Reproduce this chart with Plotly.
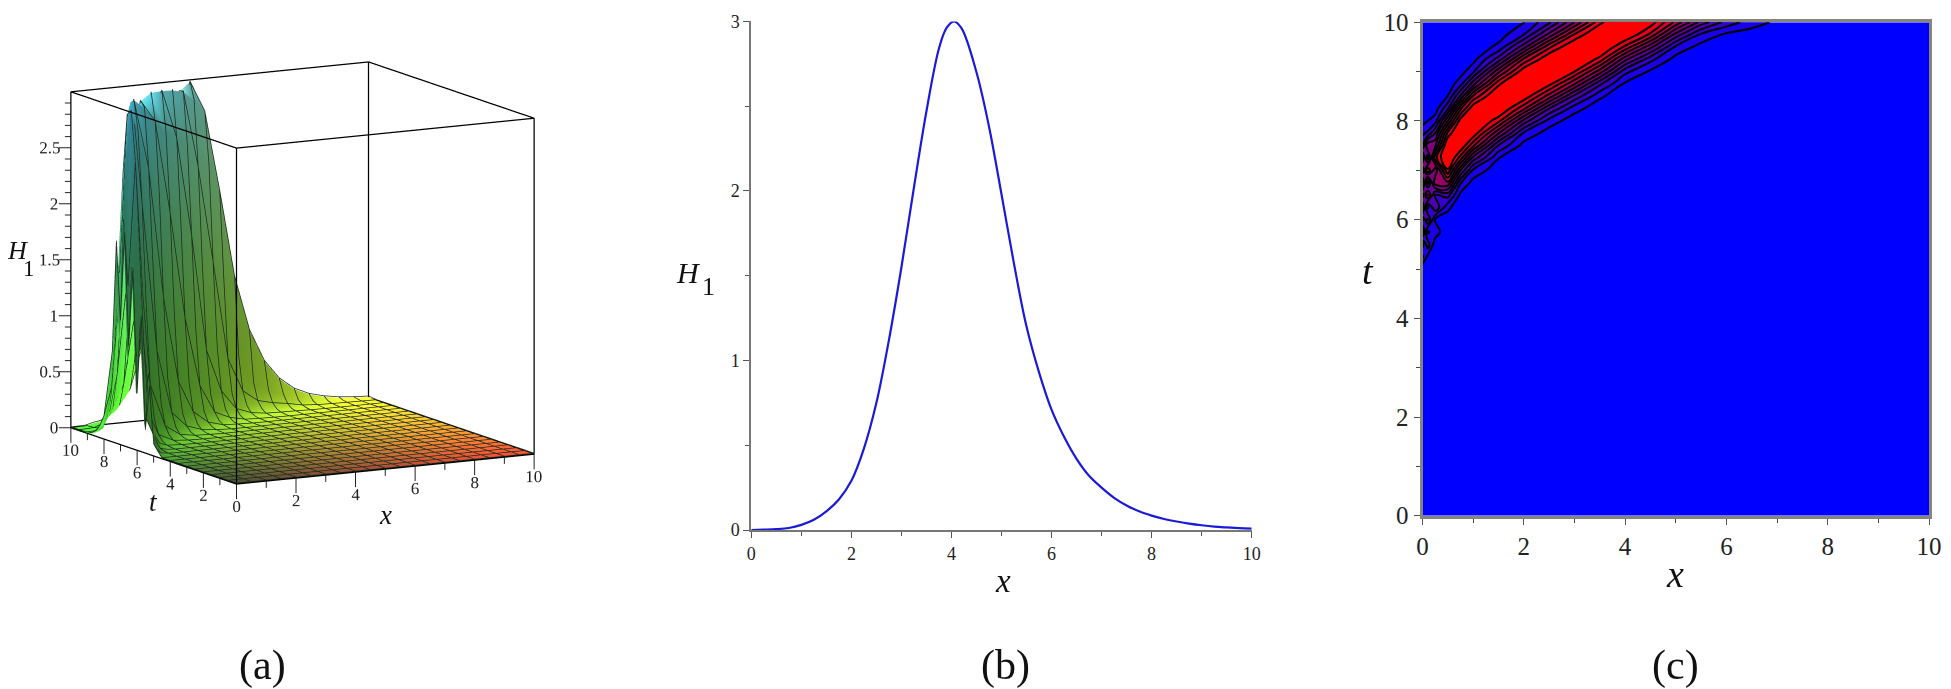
import plotly.graph_objects as go
import math

FONT = "Liberation Serif"
W, H = 1951, 689
PAGE_MARGIN = 8  # the page's own body margin, kept out of the pixel positions below

# ---------- panel (b): H1 against x ----------
CURVE_X = [0, .25, .5, .75, 1, 1.25, 1.5, 1.75, 2, 2.25, 2.5, 2.75, 3, 3.25, 3.5, 3.75, 3.9, 4.05, 4.2, 4.5, 4.75,
           5, 5.25, 5.5, 5.75, 6, 6.25, 6.5, 6.75, 7, 7.25, 7.5, 7.75, 8, 8.25, 8.5, 8.75, 9, 9.25, 9.5, 9.75, 10]
CURVE_H = [0, .002, .005, .012, .03, .06, .11, .18, .29, .48, .75, 1.12, 1.55, 2.02, 2.47, 2.84, 2.96, 3.0, 2.96, 2.70, 2.38,
           1.98, 1.57, 1.2, .93, .71, .55, .42, .32, .25, .19, .145, .11, .085, .065, .05, .038, .028, .02, .015, .011, .008]

# ---------- panels (a) and (c): H1 over x and t, read per x column ----------
X_VALUES = [0, .1, .25, .5, .75, 1, 1.5, 2, 2.5, 3, 3.5, 4, 4.5, 5, 5.5, 6, 6.5, 7, 7.5, 8, 8.5, 9, 9.5, 10]
T_VALUES = [0, .5, 1, 1.5, 2, 2.5, 3, 3.5, 4, 4.5,
            5, 5.25, 5.5, 5.75, 6, 6.25, 6.5, 6.75, 7, 7.25, 7.5, 7.75, 8, 8.25, 8.5, 8.75, 9, 9.25, 9.5, 9.75, 10]
# values for t = 5, 5.25, ... 10; below t = 5 the surface is flat at 0
H_X000 = [.1, .6, .2, 1.2, .5, 1.6, .9, 1.9, 1.1, 1.8, .8, .5, .2, .1, .04, .01, .005, .001, 0, 0, 0]
H_X010 = [.05, .25, .7, .25, 1.1, .5, 1.6, .7, 2.0, .9, 1.5, .6, .3, .12, .05, .015, .006, .002, 0, 0, 0]
H_X025 = [.012, .04, .15, .45, .3, 1.0, .8, 1.7, 1.4, 2.2, 1.5, 1.05, .44, .17, .067, .025, .008, .003, .001, 0, 0]
H_X050 = [.002, .007, .02, .055, .145, .37, .91, 1.74, 2.5, 2.95, 2.9, 2.37, 1.56, .77, .31, .12, .047, .015, .005, .002, .002]
H_X075 = [0, 0, .005, .012, .037, .09, .23, .58, 1.3, 2.17, 2.8, 3, 2.68, 2.0, 1.1, .46, .18, .07, .03, .012, .02]
H_X100 = [0, 0, .001, .004, .01, .03, .08, .2, .5, 1.2, 2.1, 2.75, 3, 2.75, 2.1, 1.2, .5, .2, .1, .06, .03]
H_X150 = [0, 0, 0, 0, .002, .006, .015, .047, .12, .31, .77, 1.56, 2.37, 2.9, 2.95, 2.5, 1.74, .91, .37, .17, .11]
H_X200 = [0, 0, 0, 0, 0, .001, .004, .01, .03, .08, .2, .5, 1.2, 2.1, 2.75, 3, 2.75, 2.1, 1.2, .55, .29]
H_X250 = [0, 0, 0, 0, 0, 0, .001, .003, .008, .025, .067, .17, .44, 1.05, 1.92, 2.63, 2.99, 2.83, 2.24, 1.38, .75]
H_X300 = [0, 0, 0, 0, 0, 0, 0, 0, .003, .007, .022, .06, .155, .4, .97, 1.81, 2.55, 2.97, 2.87, 2.32, 1.55]
H_X350 = [0, 0, 0, 0, 0, 0, 0, 0, 0, .002, .006, .018, .05, .135, .35, .85, 1.67, 2.45, 2.93, 2.92, 2.47]
H_X400 = [0, 0, 0, 0, 0, 0, 0, 0, 0, 0, .001, .005, .012, .04, .1, .25, .63, 1.38, 2.24, 2.83, 2.98]
H_X450 = [0, 0, 0, 0, 0, 0, 0, 0, 0, 0, 0, .001, .005, .012, .04, .1, .25, .63, 1.38, 2.24, 2.7]
H_X500 = [0, 0, 0, 0, 0, 0, 0, 0, 0, 0, 0, 0, .001, .004, .01, .03, .08, .2, .5, 1.2, 1.98]
H_X550 = [0, 0, 0, 0, 0, 0, 0, 0, 0, 0, 0, 0, 0, .001, .004, .01, .03, .08, .2, .5, 1.2]
H_X600 = [0, 0, 0, 0, 0, 0, 0, 0, 0, 0, 0, 0, 0, 0, .001, .005, .012, .04, .1, .25, .71]
H_X650 = [0, 0, 0, 0, 0, 0, 0, 0, 0, 0, 0, 0, 0, 0, 0, .003, .008, .025, .067, .17, .42]
H_X700 = [0, 0, 0, 0, 0, 0, 0, 0, 0, 0, 0, 0, 0, 0, 0, .002, .006, .015, .047, .12, .25]
H_X750 = [0, 0, 0, 0, 0, 0, 0, 0, 0, 0, 0, 0, 0, 0, 0, 0, .002, .007, .02, .055, .145]
H_X800 = [0, 0, 0, 0, 0, 0, 0, 0, 0, 0, 0, 0, 0, 0, 0, 0, .001, .004, .01, .03, .085]
H_X850 = [0, 0, 0, 0, 0, 0, 0, 0, 0, 0, 0, 0, 0, 0, 0, 0, 0, .002, .006, .018, .05]
H_X900 = [0, 0, 0, 0, 0, 0, 0, 0, 0, 0, 0, 0, 0, 0, 0, 0, 0, 0, .004, .011, .028]
H_X950 = [0, 0, 0, 0, 0, 0, 0, 0, 0, 0, 0, 0, 0, 0, 0, 0, 0, 0, .002, .006, .015]
H_X1000 = [0, 0, 0, 0, 0, 0, 0, 0, 0, 0, 0, 0, 0, 0, 0, 0, 0, 0, 0, .003, .008]
H_COLUMNS = [H_X000, H_X010, H_X025, H_X050, H_X075, H_X100, H_X150, H_X200, H_X250, H_X300, H_X350, H_X400, H_X450,
             H_X500, H_X550, H_X600, H_X650, H_X700, H_X750, H_X800, H_X850, H_X900, H_X950, H_X1000]

FLAT_ROWS = 10
Z_ROWS = [[0.0] * len(X_VALUES) for _ in range(FLAT_ROWS)] + \
         [[col[r] for col in H_COLUMNS] for r in range(len(H_X000))]

# ---------- 3-D axis ticks ----------
XT_TICKS = [0, 1, 2, 3, 4, 5, 6, 7, 8, 9, 10]
XT_LABELS = ["0", "2", "4", "6", "8", "10"]
XT_LABEL_VALUES = [0, 2, 4, 6, 8, 10]
T_LABELS = ["2", "4", "6", "8", "10"]
T_LABEL_VALUES = [2, 4, 6, 8, 10]
Z_TICKS = [i / 10 for i in range(0, 30)]
Z_LABELS = ["0", "0.5", "1", "1.5", "2", "2.5"]
Z_LABEL_VALUES = [0, .5, 1, 1.5, 2, 2.5]

BOX_X = [0, 10, 10, 0, 0, None, 0, 10, 10, 0, 0, None, 0, 0, None, 10, 10, None, 10, 10, None, 0, 0]
BOX_T = [0, 0, 10, 10, 0, None, 0, 0, 10, 10, 0, None, 0, 0, None, 0, 0, None, 10, 10, None, 10, 10]
BOX_Z = [0, 0, 0, 0, 0, None, 3, 3, 3, 3, 3, None, 0, 3, None, 0, 3, None, 0, 3, None, 0, 3]

fig = go.Figure()

# surface (a): colour mixes position in x, t and height, shaded by slope, as in the original
nc, nr = len(X_VALUES), len(T_VALUES)
SLOPE_GAIN = 6
mx, mt, mz, colors = [], [], [], []
for r, t in enumerate(T_VALUES):
    for c, x in enumerate(X_VALUES):
        h = Z_ROWS[r][c]
        c0, c1 = max(c - 1, 0), min(c + 1, nc - 1)
        r0, r1 = max(r - 1, 0), min(r + 1, nr - 1)
        gx = SLOPE_GAIN * (Z_ROWS[r][c1] - Z_ROWS[r][c0]) / (X_VALUES[c1] - X_VALUES[c0])
        gt = SLOPE_GAIN * (Z_ROWS[r1][c] - Z_ROWS[r0][c]) / (T_VALUES[r1] - T_VALUES[r0])
        n = math.sqrt(1 + gx * gx + gt * gt)
        shade = .55 + .52 / n + .55 * max(0.0, -gt / n)
        red = (70 + 185 * x / 10) * shade
        green = (70 + 185 * t / 10) * shade
        blue = (50 + 200 * (h / 3) ** 1.5) * shade
        mx.append(x); mt.append(t); mz.append(h)
        colors.append(f"rgb({min(red, 255):.0f},{min(green, 255):.0f},{min(blue, 255):.0f})")
ni, nj, nk = [], [], []
for r in range(nr - 1):
    for c in range(nc - 1):
        a = r * nc + c
        ni += [a, a]; nj += [a + nc + 1, a + nc]; nk += [a + 1, a + nc + 1]
fig.add_trace(go.Mesh3d(x=mx, y=mt, z=mz, i=ni, j=nj, k=nk, vertexcolor=colors, scene="scene", showlegend=False,
                        lighting=dict(ambient=1, diffuse=0, specular=0, roughness=1, fresnel=0), hoverinfo="skip"))
# mesh lines, lifted a hair towards the viewer so the surface does not hide them
LIFT = (-.025, -.045, .012)
lx, lt, lz = [], [], []
for r, t in enumerate(T_VALUES):
    if t * 2 == int(t * 2):
        lx += [v + LIFT[0] for v in X_VALUES] + [None]
        lt += [t + LIFT[1]] * nc + [None]
        lz += [v + LIFT[2] for v in Z_ROWS[r]] + [None]
for c, x in enumerate(X_VALUES):
    if x * 2 == int(x * 2):
        lx += [x + LIFT[0]] * nr + [None]
        lt += [v + LIFT[1] for v in T_VALUES] + [None]
        lz += [row[c] + LIFT[2] for row in Z_ROWS] + [None]
fig.add_trace(go.Scatter3d(x=lx, y=lt, z=lz, mode="lines", line=dict(color="rgb(28,44,28)", width=1.5),
                           scene="scene", showlegend=False, hoverinfo="skip"))
fig.add_trace(go.Scatter3d(x=BOX_X, y=BOX_T, z=BOX_Z, mode="lines", line=dict(color="black", width=2.5),
                           scene="scene", showlegend=False, hoverinfo="skip"))

# tick marks of panel (a): x and t ticks hang straight down, H1 ticks point left on screen
tx, tt, tz = [], [], []
DOWN_MAJOR, DOWN_MINOR = .134, .06
for v in XT_TICKS:
    d = DOWN_MAJOR if v % 2 == 0 else DOWN_MINOR
    tx += [v, v, None]; tt += [0, 0, None]; tz += [0, -d, None]
    tx += [0, 0, None]; tt += [v, v, None]; tz += [0, -d, None]
LEFT_MAJOR, LEFT_MINOR = (-.31, .165), (-.155, .082)
for i, v in enumerate(Z_TICKS):
    dx, dt = LEFT_MAJOR if i % 5 == 0 else LEFT_MINOR
    tx += [0, dx, None]; tt += [10, 10 + dt, None]; tz += [v, v, None]
fig.add_trace(go.Scatter3d(x=tx, y=tt, z=tz, mode="lines", line=dict(color="#222", width=2),
                           scene="scene", showlegend=False, hoverinfo="skip"))
lab3 = dict(family=FONT, size=17, color="#222")
LABEL_DROP = -.2
fig.add_trace(go.Scatter3d(x=XT_LABEL_VALUES, y=[0] * 6, z=[LABEL_DROP] * 6, mode="text", text=XT_LABELS,
                           textposition="middle center", textfont=lab3, scene="scene", showlegend=False, hoverinfo="skip"))
fig.add_trace(go.Scatter3d(x=[0] * 5, y=T_LABEL_VALUES, z=[LABEL_DROP] * 5, mode="text", text=T_LABELS,
                           textposition="middle center", textfont=lab3, scene="scene", showlegend=False, hoverinfo="skip"))
# H1 labels sit left of their ticks; three-character labels are centred further out
zl_x = [-.544 if len(s) > 1 else -.44 for s in Z_LABELS]
zl_t = [10 + (.288 if len(s) > 1 else .233) for s in Z_LABELS]
fig.add_trace(go.Scatter3d(x=zl_x, y=zl_t, z=Z_LABEL_VALUES, mode="text", text=Z_LABELS,
                           textposition="middle center", textfont=lab3, scene="scene", showlegend=False, hoverinfo="skip"))

FW, FH = W - PAGE_MARGIN, H - PAGE_MARGIN

def sx(a, b):
    return [(a - PAGE_MARGIN) / FW, (b - PAGE_MARGIN) / FW]

def sy(top, bottom):
    return [1 - (bottom - PAGE_MARGIN) / FH, 1 - (top - PAGE_MARGIN) / FH]

def ax3(rng):
    return dict(range=rng, visible=False, showspikes=False, showbackground=False)

# panel (b)
fig.add_trace(go.Scatter(x=CURVE_X, y=CURVE_H, mode="lines", line=dict(color="#1a1ad8", width=2.2, shape="spline", smoothing=1),
                         xaxis="x", yaxis="y", showlegend=False, cliponaxis=False))

# panel (c)
fig.add_trace(go.Contour(x=X_VALUES, y=T_VALUES, z=Z_ROWS, xaxis="x2", yaxis="y2", showscale=False, zmin=0, zmax=2.8,
                         autocontour=False, contours=dict(start=.3, end=2.55, size=.25, coloring="fill"),
                         colorscale=[[0, "#0000ff"], [1, "#ff0000"]], line=dict(color="black", width=2, smoothing=1.3), hoverinfo="skip"))

common = dict(showgrid=False, zeroline=False, ticks="outside", tickcolor="#555")
minor_b = dict(ticks="outside", ticklen=4, tickcolor="#555")
minor_c = dict(ticks="outside", ticklen=4, tickcolor="#444")
layout = dict(
    width=FW, height=FH, margin=dict(l=0, r=0, t=0, b=0, autoexpand=False), paper_bgcolor="white", plot_bgcolor="white", showlegend=False,
    scene=dict(domain=dict(x=sx(8, 597.4), y=sy(8, 538)), aspectmode="manual", aspectratio=dict(x=1.534, y=1.571, z=1.72),
               camera=dict(projection=dict(type="orthographic"), eye=dict(x=-.94, y=-1.73, z=.37),
                           center=dict(x=0, y=0, z=0), up=dict(x=0, y=0, z=1)),
               xaxis=ax3([-1, 11]), yaxis=ax3([-1, 11]), zaxis=ax3([-.5, 3.5])),
    xaxis=dict(domain=sx(751.3, 1251.7), anchor="y", range=[0, 10], dtick=2, minor=dict(dtick=1, **minor_b),
               ticklen=6, showline=True, linecolor="#777", linewidth=2, tickfont=dict(family=FONT, size=18, color="#222"), **common),
    yaxis=dict(domain=sy(21.4, 530), anchor="x", range=[0, 3], dtick=1, minor=dict(dtick=.5, **minor_b),
               ticklen=6, showline=True, linecolor="#777", linewidth=2, tickfont=dict(family=FONT, size=18, color="#222"), **common),
    xaxis2=dict(domain=sx(1422.5, 1929), anchor="y2", range=[0, 10], dtick=2, minor=dict(dtick=1, **minor_c),
                ticklen=6, showline=True, mirror=True, linecolor="#85857a", linewidth=3, tickfont=dict(family=FONT, size=25, color="#222"), **common),
    yaxis2=dict(domain=sy(22.3, 515.7), anchor="x2", range=[0, 10], dtick=2, minor=dict(dtick=1, **minor_c),
                ticklen=6, showline=True, mirror=True, linecolor="#85857a", linewidth=3, tickfont=dict(family=FONT, size=25, color="#222"), **common),
)

LABELS = [("<i>H</i>", 17, 250, 26), ("1", 29, 268, 23), ("<i>t</i>", 153.6, 502, 27), ("<i>x</i>", 385, 515, 27),
          ("<i>H</i>", 688, 272, 30), ("1", 708, 286, 26), ("<i>x</i>", 1003, 581, 33),
          ("<i>t</i>", 1368, 271, 38), ("<i>x</i>", 1675, 574, 38),
          ("(a)", 263, 665, 42), ("(b)", 1005, 665, 42), ("(c)", 1675, 665, 42)]
layout["annotations"] = [dict(text=s, x=(px - PAGE_MARGIN) / FW, y=1 - (py - PAGE_MARGIN) / FH, xref="paper", yref="paper", showarrow=False,
                              xanchor="center", yanchor="middle", font=dict(family=FONT, size=fs, color="#111"))
                         for s, px, py, fs in LABELS]
fig.update_layout(**layout)
fig.write_html("out.html")
